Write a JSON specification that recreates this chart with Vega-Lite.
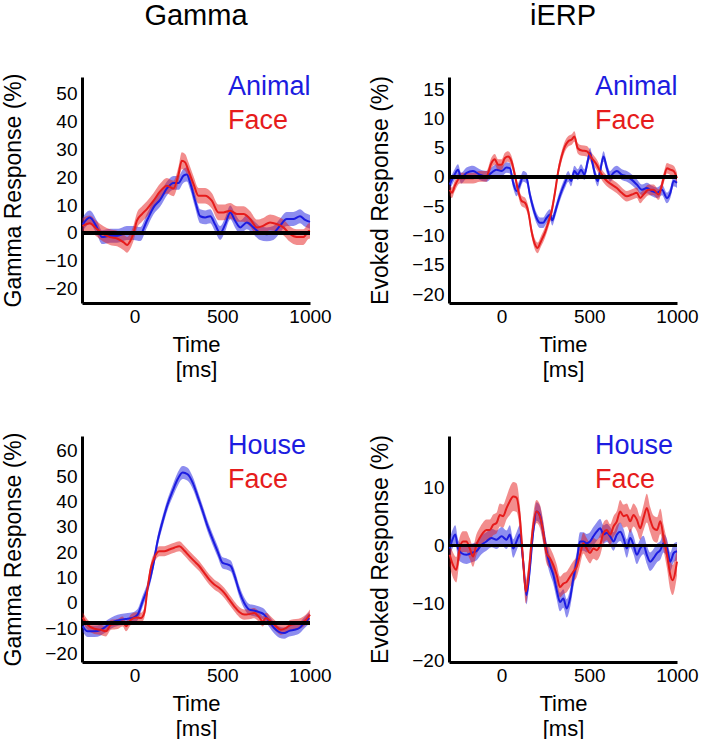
{
  "$schema": "https://vega.github.io/schema/vega-lite/v6.json",
  "padding": {"left": 2, "top": 2, "right": 0, "bottom": 0},
  "background": "white",
  "config": {
    "font": "Liberation Sans",
    "view": {"stroke": null},
    "axis": {
      "domainColor": "black", "domainWidth": 3, "ticks": false, "tickSize": 0, "grid": false,
      "labelFont": "Liberation Sans", "labelFontSize": 19, "labelColor": "black", "labelOverlap": false, "labelBound": false, "format": "d",
      "titleFont": "Liberation Sans", "titleFontSize": 22, "titleFontWeight": "normal", "titleColor": "black"
    },
    "axisX": {"labelPadding": 4, "titlePadding": 8, "titleLineHeight": 25, "labelFlush": false},
    "axisY": {"labelPadding": 5, "titlePadding": 19, "titleFontSize": 23, "labelOverlap": false, "tickCount": 12},
    "title": {"font": "Liberation Sans", "fontSize": 29, "fontWeight": "normal", "color": "black", "anchor": "middle", "offset": 42},
    "legend": {
      "title": null, "orient": "none", "legendX": 119, "legendY": -4, "padding": 0,
      "symbolOpacity": 0, "symbolSize": 0, "symbolStrokeWidth": 0, "symbolStrokeColor": "transparent", "labelOffset": 0,
      "labelFont": "Liberation Sans", "labelFontSize": 27, "rowPadding": 6, "labelLimit": 300
    }
  },
  "datasets": {
    "p1": [
      {"s":"Animal","t":-297,"y":3,"lo":0.5,"hi":5.5},{"s":"Animal","t":-256,"y":5.6,"lo":3.1,"hi":8.1},{"s":"Animal","t":-215,"y":2,"lo":-0.5,"hi":4.5},{"s":"Animal","t":-186,"y":-1.5,"lo":-4,"hi":1},{"s":"Animal","t":-140,"y":-1,"lo":-3.5,"hi":1.5},{"s":"Animal","t":-100,"y":-1,"lo":-3.5,"hi":1.5},{"s":"Animal","t":-70,"y":-0.5,"lo":-3,"hi":2},{"s":"Animal","t":-45,"y":0,"lo":-2.5,"hi":2.5},{"s":"Animal","t":-6,"y":0,"lo":-2.5,"hi":2.5},{"s":"Animal","t":32,"y":-0.4,"lo":-2.9,"hi":2.1},{"s":"Animal","t":70,"y":4.4,"lo":1.9,"hi":6.9},{"s":"Animal","t":108,"y":9.2,"lo":6.7,"hi":11.7},{"s":"Animal","t":146,"y":12,"lo":9.5,"hi":14.5},{"s":"Animal","t":184,"y":16,"lo":13.5,"hi":18.5},{"s":"Animal","t":222,"y":18,"lo":15.5,"hi":20.5},{"s":"Animal","t":250,"y":18,"lo":15.5,"hi":20.5},{"s":"Animal","t":279,"y":20.6,"lo":18.1,"hi":23.1},{"s":"Animal","t":298,"y":21,"lo":18.5,"hi":23.5},{"s":"Animal","t":317,"y":18,"lo":15.5,"hi":20.5},{"s":"Animal","t":345,"y":11.6,"lo":9.1,"hi":14.1},{"s":"Animal","t":374,"y":6,"lo":3.5,"hi":8.5},{"s":"Animal","t":402,"y":5.6,"lo":3.1,"hi":8.1},{"s":"Animal","t":431,"y":6,"lo":3.5,"hi":8.5},{"s":"Animal","t":459,"y":3,"lo":0.5,"hi":5.5},{"s":"Animal","t":488,"y":0,"lo":-2.5,"hi":2.5},{"s":"Animal","t":516,"y":3,"lo":0.5,"hi":5.5},{"s":"Animal","t":545,"y":7.4,"lo":4.9,"hi":9.9},{"s":"Animal","t":573,"y":4.4,"lo":1.9,"hi":6.9},{"s":"Animal","t":602,"y":2,"lo":-0.5,"hi":4.5},{"s":"Animal","t":640,"y":3.8,"lo":1.3,"hi":6.3},{"s":"Animal","t":677,"y":2,"lo":-0.5,"hi":4.5},{"s":"Animal","t":715,"y":0,"lo":-2.5,"hi":2.5},{"s":"Animal","t":753,"y":-0.5,"lo":-3,"hi":2},{"s":"Animal","t":791,"y":0,"lo":-2.5,"hi":2.5},{"s":"Animal","t":829,"y":2.6,"lo":0.1,"hi":5.1},{"s":"Animal","t":867,"y":5,"lo":2.5,"hi":7.5},{"s":"Animal","t":905,"y":5,"lo":2.5,"hi":7.5},{"s":"Animal","t":943,"y":6,"lo":3.5,"hi":8.5},{"s":"Animal","t":972,"y":4.7,"lo":2.2,"hi":7.2},{"s":"Animal","t":1000,"y":4,"lo":1.5,"hi":6.5},
      {"s":"Face","t":-297,"y":2.5,"lo":-0.3,"hi":5.3},{"s":"Face","t":-256,"y":3.5,"lo":0.7,"hi":6.3},{"s":"Face","t":-215,"y":1.4,"lo":-1.4,"hi":4.2},{"s":"Face","t":-177,"y":-0.4,"lo":-3.2,"hi":2.4},{"s":"Face","t":-140,"y":-1.5,"lo":-4.3,"hi":1.3},{"s":"Face","t":-100,"y":-2,"lo":-4.8,"hi":0.8},{"s":"Face","t":-62,"y":-3.4,"lo":-6.2,"hi":-0.6},{"s":"Face","t":-43,"y":-4.3,"lo":-7.1,"hi":-1.5},{"s":"Face","t":-24,"y":-2.8,"lo":-5.6,"hi":0},{"s":"Face","t":-6,"y":0,"lo":-2.8,"hi":2.8},{"s":"Face","t":13,"y":4.4,"lo":1.6,"hi":7.2},{"s":"Face","t":42,"y":6.8,"lo":4,"hi":9.6},{"s":"Face","t":70,"y":8.6,"lo":5.8,"hi":11.4},{"s":"Face","t":108,"y":11.6,"lo":8.8,"hi":14.4},{"s":"Face","t":146,"y":15,"lo":12.2,"hi":17.8},{"s":"Face","t":184,"y":17,"lo":14.2,"hi":19.8},{"s":"Face","t":222,"y":16,"lo":13.2,"hi":18.8},{"s":"Face","t":250,"y":21,"lo":18.2,"hi":23.8},{"s":"Face","t":269,"y":26,"lo":23,"hi":29},{"s":"Face","t":288,"y":25.4,"lo":22.4,"hi":28.4},{"s":"Face","t":307,"y":22.4,"lo":19.4,"hi":25.4},{"s":"Face","t":336,"y":17.6,"lo":14.8,"hi":20.4},{"s":"Face","t":364,"y":13.4,"lo":10.6,"hi":16.2},{"s":"Face","t":402,"y":13.4,"lo":10.6,"hi":16.2},{"s":"Face","t":440,"y":11.6,"lo":8.8,"hi":14.4},{"s":"Face","t":478,"y":7.4,"lo":4.6,"hi":10.2},{"s":"Face","t":507,"y":7.4,"lo":4.6,"hi":10.2},{"s":"Face","t":545,"y":8,"lo":5.2,"hi":10.8},{"s":"Face","t":583,"y":6.8,"lo":4,"hi":9.6},{"s":"Face","t":621,"y":6.8,"lo":4,"hi":9.6},{"s":"Face","t":659,"y":5,"lo":2.2,"hi":7.8},{"s":"Face","t":697,"y":2,"lo":-0.8,"hi":4.8},{"s":"Face","t":734,"y":2.6,"lo":-0.2,"hi":5.4},{"s":"Face","t":772,"y":3.8,"lo":1,"hi":6.6},{"s":"Face","t":810,"y":3.2,"lo":0.4,"hi":6},{"s":"Face","t":848,"y":2,"lo":-0.8,"hi":4.8},{"s":"Face","t":886,"y":-0.4,"lo":-3.2,"hi":2.4},{"s":"Face","t":924,"y":-1.5,"lo":-4.3,"hi":1.3},{"s":"Face","t":962,"y":-1.5,"lo":-4.3,"hi":1.3},{"s":"Face","t":991,"y":0.6,"lo":-2.2,"hi":3.4},{"s":"Face","t":1000,"y":0.8,"lo":-2,"hi":3.6}
    ],
    "p2": [
      {"s":"Animal","t":-296,"y":-1.3,"lo":-2.2,"hi":-0.4},{"s":"Animal","t":-268,"y":0.4,"lo":-0.5,"hi":1.3},{"s":"Animal","t":-249,"y":1.25,"lo":0.35,"hi":2.15},{"s":"Animal","t":-230,"y":-0.2,"lo":-1.1,"hi":0.7},{"s":"Animal","t":-200,"y":0.7,"lo":-0.2,"hi":1.6},{"s":"Animal","t":-163,"y":1,"lo":0.1,"hi":1.9},{"s":"Animal","t":-125,"y":0.4,"lo":-0.5,"hi":1.3},{"s":"Animal","t":-87,"y":0.1,"lo":-0.8,"hi":1},{"s":"Animal","t":-58,"y":0.7,"lo":-0.2,"hi":1.6},{"s":"Animal","t":-30,"y":1.25,"lo":0.35,"hi":2.15},{"s":"Animal","t":0,"y":1,"lo":0.1,"hi":1.9},{"s":"Animal","t":28,"y":1.6,"lo":0.7,"hi":2.5},{"s":"Animal","t":47,"y":1.5,"lo":0.6,"hi":2.4},{"s":"Animal","t":66,"y":-1,"lo":-1.9,"hi":-0.1},{"s":"Animal","t":85,"y":-2.4,"lo":-3.3,"hi":-1.5},{"s":"Animal","t":104,"y":-1.3,"lo":-2.2,"hi":-0.4},{"s":"Animal","t":123,"y":0.1,"lo":-0.8,"hi":1},{"s":"Animal","t":142,"y":-0.2,"lo":-1.1,"hi":0.7},{"s":"Animal","t":161,"y":-3,"lo":-3.9,"hi":-2.1},{"s":"Animal","t":180,"y":-5.3,"lo":-6.2,"hi":-4.4},{"s":"Animal","t":199,"y":-7,"lo":-7.9,"hi":-6.1},{"s":"Animal","t":218,"y":-7.8,"lo":-8.7,"hi":-6.9},{"s":"Animal","t":237,"y":-7.8,"lo":-8.7,"hi":-6.9},{"s":"Animal","t":256,"y":-7,"lo":-7.9,"hi":-6.1},{"s":"Animal","t":276,"y":-6.4,"lo":-7.3,"hi":-5.5},{"s":"Animal","t":289,"y":-7.4,"lo":-8.3,"hi":-6.5},{"s":"Animal","t":304,"y":-6.1,"lo":-7,"hi":-5.2},{"s":"Animal","t":323,"y":-4.1,"lo":-5,"hi":-3.2},{"s":"Animal","t":342,"y":-2.4,"lo":-3.3,"hi":-1.5},{"s":"Animal","t":361,"y":-1,"lo":-1.9,"hi":-0.1},{"s":"Animal","t":380,"y":0.1,"lo":-0.8,"hi":1},{"s":"Animal","t":396,"y":-0.7,"lo":-1.6,"hi":0.2},{"s":"Animal","t":415,"y":1,"lo":0.1,"hi":1.9},{"s":"Animal","t":434,"y":0.4,"lo":-0.5,"hi":1.3},{"s":"Animal","t":453,"y":1.25,"lo":0.35,"hi":2.15},{"s":"Animal","t":472,"y":0.4,"lo":-0.5,"hi":1.3},{"s":"Animal","t":491,"y":2.7,"lo":1.8,"hi":3.6},{"s":"Animal","t":504,"y":4.1,"lo":3.2,"hi":5},{"s":"Animal","t":520,"y":2.1,"lo":1.2,"hi":3},{"s":"Animal","t":533,"y":0.4,"lo":-0.5,"hi":1.3},{"s":"Animal","t":548,"y":-0.7,"lo":-1.6,"hi":0.2},{"s":"Animal","t":562,"y":1,"lo":0.1,"hi":1.9},{"s":"Animal","t":581,"y":3.5,"lo":2.6,"hi":4.4},{"s":"Animal","t":600,"y":1.5,"lo":0.6,"hi":2.4},{"s":"Animal","t":619,"y":0.1,"lo":-0.8,"hi":1},{"s":"Animal","t":638,"y":0.7,"lo":-0.2,"hi":1.6},{"s":"Animal","t":657,"y":1,"lo":0.1,"hi":1.9},{"s":"Animal","t":685,"y":0.4,"lo":-0.5,"hi":1.3},{"s":"Animal","t":714,"y":0.1,"lo":-0.8,"hi":1},{"s":"Animal","t":743,"y":-0.5,"lo":-1.4,"hi":0.4},{"s":"Animal","t":771,"y":-1.3,"lo":-2.2,"hi":-0.4},{"s":"Animal","t":800,"y":-2.2,"lo":-3.1,"hi":-1.3},{"s":"Animal","t":828,"y":-1.9,"lo":-2.8,"hi":-1},{"s":"Animal","t":857,"y":-2.4,"lo":-3.3,"hi":-1.5},{"s":"Animal","t":886,"y":-2.7,"lo":-3.6,"hi":-1.8},{"s":"Animal","t":914,"y":-2.2,"lo":-3.1,"hi":-1.3},{"s":"Animal","t":943,"y":-3.6,"lo":-4.5,"hi":-2.7},{"s":"Animal","t":962,"y":-2.7,"lo":-3.6,"hi":-1.8},{"s":"Animal","t":981,"y":-0.7,"lo":-1.6,"hi":0.2},{"s":"Animal","t":1000,"y":-1,"lo":-1.9,"hi":-0.1},
      {"s":"Face","t":-296,"y":-2.2,"lo":-3.1,"hi":-1.3},{"s":"Face","t":-283,"y":-2.7,"lo":-3.6,"hi":-1.8},{"s":"Face","t":-268,"y":-1.6,"lo":-2.5,"hi":-0.7},{"s":"Face","t":-239,"y":-0.2,"lo":-1.1,"hi":0.7},{"s":"Face","t":-200,"y":-0.2,"lo":-1.1,"hi":0.7},{"s":"Face","t":-163,"y":-0.2,"lo":-1.1,"hi":0.7},{"s":"Face","t":-125,"y":0.1,"lo":-0.8,"hi":1},{"s":"Face","t":-87,"y":0.1,"lo":-0.8,"hi":1},{"s":"Face","t":-58,"y":2.4,"lo":1.5,"hi":3.3},{"s":"Face","t":-39,"y":3,"lo":2.1,"hi":3.9},{"s":"Face","t":-20,"y":2.1,"lo":1.2,"hi":3},{"s":"Face","t":0,"y":2.1,"lo":1.2,"hi":3},{"s":"Face","t":18,"y":3.2,"lo":2.3,"hi":4.1},{"s":"Face","t":37,"y":3.5,"lo":2.6,"hi":4.4},{"s":"Face","t":56,"y":2.7,"lo":1.8,"hi":3.6},{"s":"Face","t":75,"y":0.4,"lo":-0.5,"hi":1.3},{"s":"Face","t":95,"y":-2.4,"lo":-3.3,"hi":-1.5},{"s":"Face","t":114,"y":-4.1,"lo":-5,"hi":-3.2},{"s":"Face","t":133,"y":-4.4,"lo":-5.3,"hi":-3.5},{"s":"Face","t":152,"y":-5.9,"lo":-6.8,"hi":-5},{"s":"Face","t":171,"y":-9.3,"lo":-10.2,"hi":-8.4},{"s":"Face","t":190,"y":-11.5,"lo":-12.4,"hi":-10.6},{"s":"Face","t":205,"y":-12.1,"lo":-13,"hi":-11.2},{"s":"Face","t":224,"y":-11,"lo":-11.9,"hi":-10.1},{"s":"Face","t":247,"y":-9.5,"lo":-10.4,"hi":-8.6},{"s":"Face","t":266,"y":-7.8,"lo":-8.7,"hi":-6.9},{"s":"Face","t":285,"y":-5.9,"lo":-6.8,"hi":-5},{"s":"Face","t":304,"y":-2.7,"lo":-3.6,"hi":-1.8},{"s":"Face","t":323,"y":1,"lo":0.1,"hi":1.9},{"s":"Face","t":342,"y":3.5,"lo":2.6,"hi":4.4},{"s":"Face","t":361,"y":5.2,"lo":4.3,"hi":6.1},{"s":"Face","t":380,"y":6.1,"lo":5.2,"hi":7},{"s":"Face","t":400,"y":6.4,"lo":5.5,"hi":7.3},{"s":"Face","t":415,"y":6.9,"lo":6,"hi":7.8},{"s":"Face","t":434,"y":4.9,"lo":4,"hi":5.8},{"s":"Face","t":457,"y":4.5,"lo":3.6,"hi":5.4},{"s":"Face","t":485,"y":4.4,"lo":3.5,"hi":5.3},{"s":"Face","t":514,"y":3.2,"lo":2.3,"hi":4.1},{"s":"Face","t":542,"y":2.1,"lo":1.2,"hi":3},{"s":"Face","t":571,"y":0.4,"lo":-0.5,"hi":1.3},{"s":"Face","t":600,"y":-0.7,"lo":-1.6,"hi":0.2},{"s":"Face","t":628,"y":-1.3,"lo":-2.2,"hi":-0.4},{"s":"Face","t":657,"y":-1.9,"lo":-2.8,"hi":-1},{"s":"Face","t":685,"y":-2.7,"lo":-3.6,"hi":-1.8},{"s":"Face","t":714,"y":-3.3,"lo":-4.2,"hi":-2.4},{"s":"Face","t":743,"y":-3,"lo":-3.9,"hi":-2.1},{"s":"Face","t":771,"y":-2.7,"lo":-3.6,"hi":-1.8},{"s":"Face","t":790,"y":-3.6,"lo":-4.5,"hi":-2.7},{"s":"Face","t":809,"y":-3,"lo":-3.9,"hi":-2.1},{"s":"Face","t":838,"y":-2.2,"lo":-3.1,"hi":-1.3},{"s":"Face","t":866,"y":-2.2,"lo":-3.1,"hi":-1.3},{"s":"Face","t":895,"y":-3,"lo":-3.9,"hi":-2.1},{"s":"Face","t":924,"y":-0.2,"lo":-1.1,"hi":0.7},{"s":"Face","t":943,"y":1.5,"lo":0.6,"hi":2.4},{"s":"Face","t":962,"y":1.25,"lo":0.35,"hi":2.15},{"s":"Face","t":981,"y":1,"lo":0.1,"hi":1.9},{"s":"Face","t":1000,"y":-0.2,"lo":-1.1,"hi":0.7}
    ],
    "p3": [
      {"s":"House","t":-296,"y":-9.2,"lo":-11.4,"hi":-7},{"s":"House","t":-268,"y":-11.2,"lo":-13.4,"hi":-9},{"s":"House","t":-230,"y":-11.2,"lo":-13.4,"hi":-9},{"s":"House","t":-192,"y":-10.6,"lo":-12.8,"hi":-8.4},{"s":"House","t":-154,"y":-8.8,"lo":-11,"hi":-6.6},{"s":"House","t":-116,"y":-7.3,"lo":-9.5,"hi":-5.1},{"s":"House","t":-78,"y":-6.6,"lo":-8.8,"hi":-4.4},{"s":"House","t":-40,"y":-6.2,"lo":-8.4,"hi":-4},{"s":"House","t":-11,"y":-5.9,"lo":-8.1,"hi":-3.7},{"s":"House","t":17,"y":-4.6,"lo":-6.8,"hi":-2.4},{"s":"House","t":46,"y":0.7,"lo":-1.5,"hi":2.9},{"s":"House","t":74,"y":5.9,"lo":3.7,"hi":8.1},{"s":"House","t":103,"y":13.9,"lo":11.7,"hi":16.1},{"s":"House","t":131,"y":24.4,"lo":22.2,"hi":26.6},{"s":"House","t":160,"y":32.3,"lo":30.1,"hi":34.5},{"s":"House","t":188,"y":38.9,"lo":36.7,"hi":41.1},{"s":"House","t":217,"y":44.2,"lo":41.8,"hi":46.6},{"s":"House","t":245,"y":48.8,"lo":46.2,"hi":51.4},{"s":"House","t":274,"y":51.5,"lo":48.9,"hi":54.1},{"s":"House","t":302,"y":50.8,"lo":48.2,"hi":53.4},{"s":"House","t":331,"y":47.5,"lo":45.1,"hi":49.9},{"s":"House","t":359,"y":42.2,"lo":40,"hi":44.4},{"s":"House","t":388,"y":36.3,"lo":34.1,"hi":38.5},{"s":"House","t":416,"y":30.3,"lo":28.1,"hi":32.5},{"s":"House","t":445,"y":25.1,"lo":22.9,"hi":27.3},{"s":"House","t":473,"y":20.4,"lo":18.2,"hi":22.6},{"s":"House","t":502,"y":15.8,"lo":13.6,"hi":18},{"s":"House","t":530,"y":15.2,"lo":13,"hi":17.4},{"s":"House","t":549,"y":14.5,"lo":12.3,"hi":16.7},{"s":"House","t":568,"y":11.2,"lo":9,"hi":13.4},{"s":"House","t":597,"y":4.6,"lo":2.4,"hi":6.8},{"s":"House","t":625,"y":0,"lo":-2.2,"hi":2.2},{"s":"House","t":654,"y":-2.6,"lo":-4.8,"hi":-0.4},{"s":"House","t":682,"y":-3,"lo":-5.2,"hi":-0.8},{"s":"House","t":711,"y":-3.6,"lo":-5.8,"hi":-1.4},{"s":"House","t":739,"y":-4.6,"lo":-6.8,"hi":-2.4},{"s":"House","t":768,"y":-7.3,"lo":-9.5,"hi":-5.1},{"s":"House","t":796,"y":-9.9,"lo":-12.1,"hi":-7.7},{"s":"House","t":825,"y":-11.5,"lo":-13.7,"hi":-9.3},{"s":"House","t":853,"y":-11.9,"lo":-14.1,"hi":-9.7},{"s":"House","t":882,"y":-11,"lo":-13.2,"hi":-8.8},{"s":"House","t":910,"y":-10.6,"lo":-12.8,"hi":-8.4},{"s":"House","t":939,"y":-9.9,"lo":-12.1,"hi":-7.7},{"s":"House","t":967,"y":-7.9,"lo":-10.1,"hi":-5.7},{"s":"House","t":996,"y":-5.9,"lo":-8.1,"hi":-3.7},
      {"s":"Face","t":-296,"y":-5.7,"lo":-7.7,"hi":-3.7},{"s":"Face","t":-268,"y":-8.6,"lo":-10.6,"hi":-6.6},{"s":"Face","t":-230,"y":-10.2,"lo":-12.2,"hi":-8.2},{"s":"Face","t":-192,"y":-10.6,"lo":-12.6,"hi":-8.6},{"s":"Face","t":-163,"y":-11.2,"lo":-13.2,"hi":-9.2},{"s":"Face","t":-135,"y":-8.6,"lo":-10.6,"hi":-6.6},{"s":"Face","t":-97,"y":-8.3,"lo":-10.3,"hi":-6.3},{"s":"Face","t":-68,"y":-7.3,"lo":-9.3,"hi":-5.3},{"s":"Face","t":-49,"y":-9.2,"lo":-11.2,"hi":-7.2},{"s":"Face","t":-21,"y":-6.6,"lo":-8.6,"hi":-4.6},{"s":"Face","t":8,"y":-5.7,"lo":-7.7,"hi":-3.7},{"s":"Face","t":36,"y":-5.9,"lo":-7.9,"hi":-3.9},{"s":"Face","t":55,"y":-4,"lo":-6,"hi":-2},{"s":"Face","t":74,"y":5.9,"lo":3.9,"hi":7.9},{"s":"Face","t":93,"y":13.9,"lo":11.9,"hi":15.9},{"s":"Face","t":112,"y":17.8,"lo":15.8,"hi":19.8},{"s":"Face","t":141,"y":20.4,"lo":18.4,"hi":22.4},{"s":"Face","t":169,"y":20.4,"lo":18.4,"hi":22.4},{"s":"Face","t":198,"y":21.1,"lo":19.1,"hi":23.1},{"s":"Face","t":226,"y":21.8,"lo":19.8,"hi":23.8},{"s":"Face","t":255,"y":22.4,"lo":20.4,"hi":24.4},{"s":"Face","t":283,"y":20.7,"lo":18.7,"hi":22.7},{"s":"Face","t":312,"y":18.5,"lo":16.5,"hi":20.5},{"s":"Face","t":340,"y":16.5,"lo":14.5,"hi":18.5},{"s":"Face","t":369,"y":14.5,"lo":12.5,"hi":16.5},{"s":"Face","t":397,"y":11.9,"lo":9.9,"hi":13.9},{"s":"Face","t":426,"y":9.2,"lo":7.2,"hi":11.2},{"s":"Face","t":454,"y":7.3,"lo":5.3,"hi":9.3},{"s":"Face","t":483,"y":5.9,"lo":3.9,"hi":7.9},{"s":"Face","t":511,"y":4,"lo":2,"hi":6},{"s":"Face","t":540,"y":1.3,"lo":-0.7,"hi":3.3},{"s":"Face","t":568,"y":-1.3,"lo":-3.3,"hi":0.7},{"s":"Face","t":597,"y":-3.6,"lo":-5.6,"hi":-1.6},{"s":"Face","t":625,"y":-4.6,"lo":-6.6,"hi":-2.6},{"s":"Face","t":654,"y":-4.4,"lo":-6.4,"hi":-2.4},{"s":"Face","t":682,"y":-4,"lo":-6,"hi":-2},{"s":"Face","t":711,"y":-5.7,"lo":-7.7,"hi":-3.7},{"s":"Face","t":730,"y":-7.3,"lo":-9.3,"hi":-5.3},{"s":"Face","t":749,"y":-5.9,"lo":-7.9,"hi":-3.9},{"s":"Face","t":777,"y":-7.3,"lo":-9.3,"hi":-5.3},{"s":"Face","t":806,"y":-9.2,"lo":-11.2,"hi":-7.2},{"s":"Face","t":834,"y":-10.6,"lo":-12.6,"hi":-8.6},{"s":"Face","t":863,"y":-9.9,"lo":-11.9,"hi":-7.9},{"s":"Face","t":891,"y":-8.6,"lo":-10.6,"hi":-6.6},{"s":"Face","t":920,"y":-8.3,"lo":-10.3,"hi":-6.3},{"s":"Face","t":948,"y":-7.9,"lo":-9.9,"hi":-5.9},{"s":"Face","t":977,"y":-6.6,"lo":-8.6,"hi":-4.6},{"s":"Face","t":1000,"y":-4.6,"lo":-6.6,"hi":-2.6}
    ],
    "p4": [
      {"s":"House","t":-296,"y":-0.5,"lo":-2.1,"hi":1.1},{"s":"House","t":-277,"y":1.3,"lo":-0.3,"hi":2.9},{"s":"House","t":-264,"y":1.9,"lo":0.3,"hi":3.5},{"s":"House","t":-249,"y":-0.5,"lo":-2.1,"hi":1.1},{"s":"House","t":-230,"y":-1.3,"lo":-2.9,"hi":0.3},{"s":"House","t":-201,"y":-1.6,"lo":-3.2,"hi":0},{"s":"House","t":-172,"y":-1.3,"lo":-2.9,"hi":0.3},{"s":"House","t":-144,"y":-1,"lo":-2.6,"hi":0.6},{"s":"House","t":-115,"y":0.1,"lo":-1.5,"hi":1.7},{"s":"House","t":-87,"y":0.7,"lo":-0.9,"hi":2.3},{"s":"House","t":-58,"y":1.3,"lo":-0.3,"hi":2.9},{"s":"House","t":-29,"y":1,"lo":-0.6,"hi":2.6},{"s":"House","t":0,"y":1.6,"lo":0,"hi":3.2},{"s":"House","t":28,"y":1,"lo":-0.6,"hi":2.6},{"s":"House","t":47,"y":1.9,"lo":0.3,"hi":3.5},{"s":"House","t":66,"y":-0.5,"lo":-2.1,"hi":1.1},{"s":"House","t":85,"y":0.7,"lo":-0.9,"hi":2.3},{"s":"House","t":104,"y":1.9,"lo":0.3,"hi":3.5},{"s":"House","t":123,"y":-2.8,"lo":-4.4,"hi":-1.2},{"s":"House","t":142,"y":-8.6,"lo":-10.2,"hi":-7},{"s":"House","t":161,"y":-4,"lo":-5.6,"hi":-2.4},{"s":"House","t":180,"y":2.4,"lo":0.8,"hi":4},{"s":"House","t":199,"y":5.9,"lo":4.3,"hi":7.5},{"s":"House","t":218,"y":5.3,"lo":3.7,"hi":6.9},{"s":"House","t":237,"y":2.4,"lo":0.8,"hi":4},{"s":"House","t":256,"y":-1,"lo":-2.6,"hi":0.6},{"s":"House","t":276,"y":-3.4,"lo":-5,"hi":-1.8},{"s":"House","t":295,"y":-5.1,"lo":-6.7,"hi":-3.5},{"s":"House","t":314,"y":-7.7,"lo":-9.3,"hi":-6.1},{"s":"House","t":333,"y":-9.8,"lo":-11.4,"hi":-8.2},{"s":"House","t":352,"y":-9.2,"lo":-10.8,"hi":-7.6},{"s":"House","t":371,"y":-10.9,"lo":-12.5,"hi":-9.3},{"s":"House","t":390,"y":-9.2,"lo":-10.8,"hi":-7.6},{"s":"House","t":409,"y":-5.7,"lo":-7.3,"hi":-4.1},{"s":"House","t":428,"y":-2.8,"lo":-4.4,"hi":-1.2},{"s":"House","t":447,"y":0.7,"lo":-0.9,"hi":2.3},{"s":"House","t":466,"y":0.7,"lo":-0.9,"hi":2.3},{"s":"House","t":485,"y":0.4,"lo":-1.2,"hi":2},{"s":"House","t":504,"y":0.7,"lo":-0.9,"hi":2.3},{"s":"House","t":523,"y":1.6,"lo":0,"hi":3.2},{"s":"House","t":542,"y":2.4,"lo":0.8,"hi":4},{"s":"House","t":562,"y":3,"lo":1.4,"hi":4.6},{"s":"House","t":581,"y":1.9,"lo":0.3,"hi":3.5},{"s":"House","t":600,"y":2.2,"lo":0.6,"hi":3.8},{"s":"House","t":619,"y":1.6,"lo":0,"hi":3.2},{"s":"House","t":638,"y":0.7,"lo":-0.9,"hi":2.3},{"s":"House","t":657,"y":1.9,"lo":0.3,"hi":3.5},{"s":"House","t":676,"y":2.4,"lo":0.8,"hi":4},{"s":"House","t":695,"y":1.3,"lo":-0.3,"hi":2.9},{"s":"House","t":714,"y":-0.5,"lo":-2.1,"hi":1.1},{"s":"House","t":733,"y":1.3,"lo":-0.3,"hi":2.9},{"s":"House","t":752,"y":0.1,"lo":-1.5,"hi":1.7},{"s":"House","t":771,"y":-1.6,"lo":-3.2,"hi":0},{"s":"House","t":790,"y":-0.5,"lo":-2.1,"hi":1.1},{"s":"House","t":809,"y":0.1,"lo":-1.5,"hi":1.7},{"s":"House","t":828,"y":-1.6,"lo":-3.2,"hi":0},{"s":"House","t":847,"y":-2.8,"lo":-4.4,"hi":-1.2},{"s":"House","t":866,"y":-2.2,"lo":-3.8,"hi":-0.6},{"s":"House","t":886,"y":-1.3,"lo":-2.9,"hi":0.3},{"s":"House","t":905,"y":-0.8,"lo":-2.4,"hi":0.8},{"s":"House","t":924,"y":0.4,"lo":-1.2,"hi":2},{"s":"House","t":943,"y":-0.5,"lo":-2.1,"hi":1.1},{"s":"House","t":962,"y":-2.8,"lo":-4.4,"hi":-1.2},{"s":"House","t":981,"y":-1.3,"lo":-2.9,"hi":0.3},{"s":"House","t":1000,"y":-1,"lo":-2.6,"hi":0.6},
      {"s":"Face","t":-296,"y":-1.6,"lo":-3.6,"hi":0.4},{"s":"Face","t":-277,"y":-3.4,"lo":-5.6,"hi":-1.2},{"s":"Face","t":-258,"y":-4.2,"lo":-6.4,"hi":-2},{"s":"Face","t":-239,"y":-0.5,"lo":-2.5,"hi":1.5},{"s":"Face","t":-220,"y":0.7,"lo":-1.1,"hi":2.5},{"s":"Face","t":-201,"y":0.7,"lo":-1.1,"hi":2.5},{"s":"Face","t":-182,"y":-0.5,"lo":-2.3,"hi":1.3},{"s":"Face","t":-163,"y":-1.9,"lo":-3.7,"hi":-0.1},{"s":"Face","t":-144,"y":0.1,"lo":-1.7,"hi":1.9},{"s":"Face","t":-125,"y":1.3,"lo":-0.5,"hi":3.1},{"s":"Face","t":-106,"y":2.2,"lo":0.4,"hi":4},{"s":"Face","t":-87,"y":2.7,"lo":0.9,"hi":4.5},{"s":"Face","t":-68,"y":2.7,"lo":0.9,"hi":4.5},{"s":"Face","t":-48,"y":3.6,"lo":1.8,"hi":5.4},{"s":"Face","t":-29,"y":3.9,"lo":2.1,"hi":5.7},{"s":"Face","t":-10,"y":5.3,"lo":3.3,"hi":7.3},{"s":"Face","t":9,"y":5.1,"lo":3.1,"hi":7.1},{"s":"Face","t":28,"y":6.5,"lo":4.5,"hi":8.5},{"s":"Face","t":47,"y":7.7,"lo":5.3,"hi":10.1},{"s":"Face","t":66,"y":8.5,"lo":6,"hi":11},{"s":"Face","t":85,"y":8.3,"lo":5.8,"hi":10.8},{"s":"Face","t":104,"y":4.8,"lo":2.6,"hi":7},{"s":"Face","t":123,"y":-2.8,"lo":-4.8,"hi":-0.8},{"s":"Face","t":138,"y":-8,"lo":-10,"hi":-6},{"s":"Face","t":157,"y":-4,"lo":-6,"hi":-2},{"s":"Face","t":176,"y":2.4,"lo":0.4,"hi":4.4},{"s":"Face","t":199,"y":5.9,"lo":3.9,"hi":7.9},{"s":"Face","t":218,"y":5.1,"lo":3.1,"hi":7.1},{"s":"Face","t":237,"y":2.4,"lo":0.4,"hi":4.4},{"s":"Face","t":256,"y":-1.3,"lo":-3.1,"hi":0.5},{"s":"Face","t":276,"y":-2.2,"lo":-4,"hi":-0.4},{"s":"Face","t":295,"y":-3.4,"lo":-5.2,"hi":-1.6},{"s":"Face","t":314,"y":-5.1,"lo":-6.9,"hi":-3.3},{"s":"Face","t":333,"y":-7.2,"lo":-9,"hi":-5.4},{"s":"Face","t":352,"y":-6.6,"lo":-8.4,"hi":-4.8},{"s":"Face","t":371,"y":-6.3,"lo":-8.1,"hi":-4.5},{"s":"Face","t":390,"y":-5.4,"lo":-7.2,"hi":-3.6},{"s":"Face","t":409,"y":-4.5,"lo":-6.3,"hi":-2.7},{"s":"Face","t":428,"y":-3.7,"lo":-5.5,"hi":-1.9},{"s":"Face","t":447,"y":-1.6,"lo":-3.4,"hi":0.2},{"s":"Face","t":466,"y":0.4,"lo":-1.4,"hi":2.2},{"s":"Face","t":485,"y":-0.5,"lo":-2.3,"hi":1.3},{"s":"Face","t":504,"y":-1.3,"lo":-3.1,"hi":0.5},{"s":"Face","t":523,"y":-0.5,"lo":-2.3,"hi":1.3},{"s":"Face","t":542,"y":-0.8,"lo":-2.6,"hi":1},{"s":"Face","t":562,"y":0.1,"lo":-1.7,"hi":1.9},{"s":"Face","t":581,"y":2.2,"lo":0.4,"hi":4},{"s":"Face","t":600,"y":2.7,"lo":0.9,"hi":4.5},{"s":"Face","t":619,"y":1.9,"lo":0.1,"hi":3.7},{"s":"Face","t":638,"y":3.3,"lo":1.5,"hi":5.1},{"s":"Face","t":657,"y":4.2,"lo":2.4,"hi":6},{"s":"Face","t":676,"y":5.9,"lo":3.9,"hi":7.9},{"s":"Face","t":695,"y":5.1,"lo":3.1,"hi":7.1},{"s":"Face","t":714,"y":5.3,"lo":3.3,"hi":7.3},{"s":"Face","t":733,"y":4.2,"lo":2.2,"hi":6.2},{"s":"Face","t":752,"y":5.3,"lo":3.3,"hi":7.3},{"s":"Face","t":771,"y":4.5,"lo":2.5,"hi":6.5},{"s":"Face","t":790,"y":3,"lo":1,"hi":5},{"s":"Face","t":809,"y":4.8,"lo":2.6,"hi":7},{"s":"Face","t":828,"y":6.5,"lo":4,"hi":9},{"s":"Face","t":847,"y":4.5,"lo":2.3,"hi":6.7},{"s":"Face","t":866,"y":3,"lo":0.8,"hi":5.2},{"s":"Face","t":886,"y":2.7,"lo":0.5,"hi":4.9},{"s":"Face","t":905,"y":4.2,"lo":2,"hi":6.4},{"s":"Face","t":924,"y":1.3,"lo":-0.9,"hi":3.5},{"s":"Face","t":943,"y":-1.6,"lo":-4,"hi":0.8},{"s":"Face","t":962,"y":-5.1,"lo":-7.7,"hi":-2.5},{"s":"Face","t":975,"y":-6,"lo":-8.6,"hi":-3.4},{"s":"Face","t":1000,"y":-2.8,"lo":-5.2,"hi":-0.4}
    ]
  },
  "columns": 2,
  "bounds": "flush",
  "spacing": {"row": 133, "column": 139},
  "resolve": {"scale": {"x": "independent", "y": "independent", "color": "independent"}, "legend": {"color": "independent"}, "axis": {"x": "independent", "y": "independent"}},
  "concat": [
    {
      "title": "Gamma",
      "width": 228, "height": 226,
      "data": {"name": "p1"},
      "layer": [
        {"mark": {"type": "area", "interpolate": "monotone", "opacity": 0.5},
         "encoding": {
           "x": {"field": "t", "type": "quantitative", "scale": {"domain": [-300, 1000], "nice": false, "zero": false}, "axis": {"title": ["Time", "[ms]"], "values": [0, 500, 1000], "tickCount": 12, "labelOverlap": false}},
           "y": {"field": "lo", "type": "quantitative", "scale": {"domain": [-25.2, 56.1], "nice": false, "zero": false}, "axis": {"title": "Gamma Response (%)", "values": [-20, -10, 0, 10, 20, 30, 40, 50], "tickCount": 12, "labelOverlap": false}},
           "y2": {"field": "hi"},
           "color": {"field": "s", "type": "nominal", "scale": {"domain": ["Animal", "Face"], "range": ["#1c1ce0", "#e61c1c"]},
             "legend": {"encode": {"labels": {"update": {"fill": {"signal": "datum.value === 'Face' ? '#e61c1c' : '#1c1ce0'"}}}}}}}},
        {"mark": {"type": "line", "interpolate": "monotone", "strokeWidth": 2},
         "encoding": {
           "x": {"field": "t", "type": "quantitative", "axis": {"title": ["Time", "[ms]"], "values": [0, 500, 1000], "tickCount": 12, "labelOverlap": false}},
           "y": {"field": "y", "type": "quantitative", "axis": {"title": "Gamma Response (%)", "values": [-20, -10, 0, 10, 20, 30, 40, 50], "tickCount": 12, "labelOverlap": false}},
           "color": {"field": "s", "type": "nominal", "scale": {"domain": ["Animal", "Face"], "range": ["#1c1ce0", "#e61c1c"]},
             "legend": {"encode": {"labels": {"update": {"fill": {"signal": "datum.value === 'Face' ? '#e61c1c' : '#1c1ce0'"}}}}}}}},
        {"mark": {"type": "rule", "color": "black", "strokeWidth": 3}, "encoding": {"y": {"datum": 0}}}
      ]
    },
    {
      "title": "iERP",
      "width": 228, "height": 226,
      "data": {"name": "p2"},
      "layer": [
        {"mark": {"type": "area", "interpolate": "monotone", "opacity": 0.5},
         "encoding": {
           "x": {"field": "t", "type": "quantitative", "scale": {"domain": [-300, 1000], "nice": false, "zero": false}, "axis": {"title": ["Time", "[ms]"], "values": [0, 500, 1000], "tickCount": 12, "labelOverlap": false}},
           "y": {"field": "lo", "type": "quantitative", "scale": {"domain": [-21.5, 17.05], "nice": false, "zero": false}, "axis": {"title": "Evoked Response (%)", "values": [-20, -15, -10, -5, 0, 5, 10, 15], "tickCount": 12, "labelOverlap": false}},
           "y2": {"field": "hi"},
           "color": {"field": "s", "type": "nominal", "scale": {"domain": ["Animal", "Face"], "range": ["#1c1ce0", "#e61c1c"]},
             "legend": {"encode": {"labels": {"update": {"fill": {"signal": "datum.value === 'Face' ? '#e61c1c' : '#1c1ce0'"}}}}}}}},
        {"mark": {"type": "line", "interpolate": "monotone", "strokeWidth": 2},
         "encoding": {
           "x": {"field": "t", "type": "quantitative", "axis": {"title": ["Time", "[ms]"], "values": [0, 500, 1000], "tickCount": 12, "labelOverlap": false}},
           "y": {"field": "y", "type": "quantitative", "axis": {"title": "Evoked Response (%)", "values": [-20, -15, -10, -5, 0, 5, 10, 15], "tickCount": 12, "labelOverlap": false}},
           "color": {"field": "s", "type": "nominal", "scale": {"domain": ["Animal", "Face"], "range": ["#1c1ce0", "#e61c1c"]},
             "legend": {"encode": {"labels": {"update": {"fill": {"signal": "datum.value === 'Face' ? '#e61c1c' : '#1c1ce0'"}}}}}}}},
        {"mark": {"type": "rule", "color": "black", "strokeWidth": 3}, "encoding": {"y": {"datum": 0}}}
      ]
    },
    {
      "width": 228, "height": 226,
      "data": {"name": "p3"},
      "layer": [
        {"mark": {"type": "area", "interpolate": "monotone", "opacity": 0.5},
         "encoding": {
           "x": {"field": "t", "type": "quantitative", "scale": {"domain": [-300, 1000], "nice": false, "zero": false}, "axis": {"title": ["Time", "[ms]"], "values": [0, 500, 1000], "tickCount": 12, "labelOverlap": false}},
           "y": {"field": "lo", "type": "quantitative", "scale": {"domain": [-23.3, 65.9], "nice": false, "zero": false}, "axis": {"title": "Gamma Response (%)", "values": [-20, -10, 0, 10, 20, 30, 40, 50, 60], "tickCount": 12, "labelOverlap": false}},
           "y2": {"field": "hi"},
           "color": {"field": "s", "type": "nominal", "scale": {"domain": ["House", "Face"], "range": ["#1c1ce0", "#e61c1c"]},
             "legend": {"encode": {"labels": {"update": {"fill": {"signal": "datum.value === 'Face' ? '#e61c1c' : '#1c1ce0'"}}}}}}}},
        {"mark": {"type": "line", "interpolate": "monotone", "strokeWidth": 2},
         "encoding": {
           "x": {"field": "t", "type": "quantitative", "axis": {"title": ["Time", "[ms]"], "values": [0, 500, 1000], "tickCount": 12, "labelOverlap": false}},
           "y": {"field": "y", "type": "quantitative", "axis": {"title": "Gamma Response (%)", "values": [-20, -10, 0, 10, 20, 30, 40, 50, 60], "tickCount": 12, "labelOverlap": false}},
           "color": {"field": "s", "type": "nominal", "scale": {"domain": ["House", "Face"], "range": ["#1c1ce0", "#e61c1c"]},
             "legend": {"encode": {"labels": {"update": {"fill": {"signal": "datum.value === 'Face' ? '#e61c1c' : '#1c1ce0'"}}}}}}}},
        {"mark": {"type": "rule", "color": "black", "strokeWidth": 3}, "encoding": {"y": {"datum": -8}}}
      ]
    },
    {
      "width": 228, "height": 226,
      "data": {"name": "p4"},
      "layer": [
        {"mark": {"type": "area", "interpolate": "monotone", "opacity": 0.5},
         "encoding": {
           "x": {"field": "t", "type": "quantitative", "scale": {"domain": [-300, 1000], "nice": false, "zero": false}, "axis": {"title": ["Time", "[ms]"], "values": [0, 500, 1000], "tickCount": 12, "labelOverlap": false}},
           "y": {"field": "lo", "type": "quantitative", "scale": {"domain": [-20.2, 19.0], "nice": false, "zero": false}, "axis": {"title": "Evoked Response (%)", "values": [-20, -10, 0, 10], "tickCount": 12, "labelOverlap": false}},
           "y2": {"field": "hi"},
           "color": {"field": "s", "type": "nominal", "scale": {"domain": ["House", "Face"], "range": ["#1c1ce0", "#e61c1c"]},
             "legend": {"encode": {"labels": {"update": {"fill": {"signal": "datum.value === 'Face' ? '#e61c1c' : '#1c1ce0'"}}}}}}}},
        {"mark": {"type": "line", "interpolate": "monotone", "strokeWidth": 2},
         "encoding": {
           "x": {"field": "t", "type": "quantitative", "axis": {"title": ["Time", "[ms]"], "values": [0, 500, 1000], "tickCount": 12, "labelOverlap": false}},
           "y": {"field": "y", "type": "quantitative", "axis": {"title": "Evoked Response (%)", "values": [-20, -10, 0, 10], "tickCount": 12, "labelOverlap": false}},
           "color": {"field": "s", "type": "nominal", "scale": {"domain": ["House", "Face"], "range": ["#1c1ce0", "#e61c1c"]},
             "legend": {"encode": {"labels": {"update": {"fill": {"signal": "datum.value === 'Face' ? '#e61c1c' : '#1c1ce0'"}}}}}}}},
        {"mark": {"type": "rule", "color": "black", "strokeWidth": 3}, "encoding": {"y": {"datum": 0}}}
      ]
    }
  ]
}
